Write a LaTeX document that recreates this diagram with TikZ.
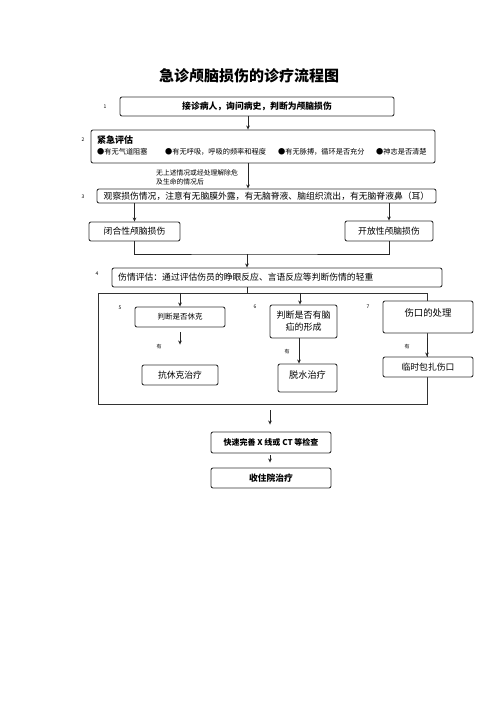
\documentclass[tikz,border=0pt]{standalone}
\usepackage{fontspec}
\setmainfont{Noto Sans CJK SC}
\usetikzlibrary{arrows.meta,positioning}

\tikzset{
    box/.style={draw=black!80, line width=0.9pt, rounded corners=2pt, fill=white, inner sep=0pt},
    arr/.style={-{Stealth[length=4pt,width=3.6pt]}, line width=0.9pt, black!85},
    lnk/.style={line width=0.9pt, black!85},
    num/.style={font=\fontsize{5pt}{6pt}\selectfont},
    txt/.style={font=\fontsize{8.8pt}{12pt}\selectfont},
    small/.style={font=\fontsize{7.2pt}{9pt}\selectfont, inner sep=0pt}
}

\begin{document}
\begin{tikzpicture}[x=1pt, y=-1pt]
    \useasboundingbox (0,0) rectangle (496,702);

    % Title
    \node[font=\fontsize{15pt}{18pt}\selectfont\bfseries] (title) at (249,76) {急诊颅脑损伤的诊疗流程图};

    % Step 1 and 2
    \node[box, minimum width=274pt, minimum height=19pt, txt, font=\fontsize{8.8pt}{12pt}\selectfont\bfseries] (jz) at (257,106.5) {接诊病人，询问病史，判断为颅脑损伤};
    \node[box, minimum width=344pt, minimum height=33pt] (pg) at (263,146.5) {};
    \node[font=\fontsize{9pt}{10pt}\selectfont\bfseries, anchor=west, inner sep=0pt] (pgt) at (97,140) {紧急评估};
    \node[small, anchor=west] (b1) at (97,152) {●有无气道阻塞};
    \node[small, anchor=west] (b2) at (165,152) {●有无呼吸，呼吸的频率和程度};
    \node[small, anchor=west] (b3) at (278,152) {●有无脉搏，循环是否充分};
    \node[small, anchor=west] (b4) at (376,152) {●神志是否清楚};
    \node[small, font=\fontsize{6.8pt}{9pt}\selectfont, anchor=west] (nt1) at (156,173) {无上述情况或经处理解除危};
    \node[small, font=\fontsize{6.8pt}{9pt}\selectfont, anchor=west] (nt2) at (156,182) {及生命的情况后};

    % Step 3
    \node[box, minimum width=339pt, minimum height=14pt, txt] (gc) at (266.5,196) {观察损伤情况，注意有无脑膜外露，有无脑脊液、脑组织流出，有无脑脊液鼻（耳）};
    \node[box, minimum width=91pt, minimum height=19pt, txt] (bh) at (134.5,231.5) {闭合性颅脑损伤};
    \node[box, minimum width=88pt, minimum height=20pt, txt] (kf) at (389,231) {开放性颅脑损伤};

    % Step 4
    \node[box, minimum width=330pt, minimum height=19pt] (sq) at (277,277.5) {};
    \node[txt, anchor=west, inner sep=0pt] (sqt) at (118,277) {伤情评估：通过评估伤员的睁眼反应、言语反应等判断伤情的轻重};

    % Group of steps 5 to 7
    \node[draw=black!80, line width=0.9pt, minimum width=329pt, minimum height=111pt, inner sep=0pt] (grp) at (262.5,348.5) {};
    \node[box, minimum width=90pt, minimum height=20pt, font=\fontsize{7.5pt}{9pt}\selectfont] (xk) at (180,317) {判断是否休克};
    \node[box, minimum width=67pt, minimum height=33pt, align=center, font=\fontsize{9pt}{12pt}\selectfont] (nh) at (303.5,321.5) {判断是否有脑\\疝的形成};
    \node[box, minimum width=90pt, minimum height=32pt] (sk) at (428,317) {};
    \node[txt, font=\fontsize{9.4pt}{12pt}\selectfont, below=4pt of sk.north] (skt) {伤口的处理};
    \node[box, minimum width=76pt, minimum height=20pt, txt] (kxk) at (180,375) {抗休克治疗};
    \node[box, minimum width=59pt, minimum height=28pt] (ts) at (307.5,378) {};
    \node[txt, font=\fontsize{9.2pt}{12pt}\selectfont, below=4pt of ts.north] (tst) {脱水治疗};
    \node[box, minimum width=90pt, minimum height=20pt, txt] (bz) at (428,367) {临时包扎伤口};

    % Final steps
    \node[box, minimum width=120pt, minimum height=21pt, font=\fontsize{8pt}{10pt}\selectfont\bfseries] (ks) at (271,442.5) {快速完善 X 线或 CT 等检查};
    \node[box, minimum width=120pt, minimum height=20pt, font=\fontsize{8.8pt}{10pt}\selectfont\bfseries] (zy) at (271,478) {收住院治疗};

    % Step numbers
    \node[num] (n1) at (105,107) {1};
    \node[num] (n2) at (83,140) {2};
    \node[num] (n3) at (83,197) {3};
    \node[num] (n4) at (97,274) {4};
    \node[num] (n5) at (120,308) {5};
    \node[num] (n6) at (255,307) {6};
    \node[num] (n7) at (368,307) {7};

    % "you" labels
    \node[num] (y1) at (159,347) {有};
    \node[num] (y2) at (287,352) {有};
    \node[num] (y3) at (407,347) {有};

    % Connectors
    \coordinate (ax) at (248,0);
    \coordinate (mrg) at (247,254);
    \draw[arr] (jz.south -| ax) -- (pg.north -| ax);
    \draw[arr] (pg.south -| ax) -- (gc.north -| ax);
    \draw[arr] (gc.south -| bh.north) -- (bh.north);
    \draw[arr] (gc.south -| kf.north) -- (kf.north);
    \draw[lnk] (bh.south) |- (mrg) -| (kf.south);
    \draw[arr] (mrg) -- (sq.north -| mrg);
    \draw[lnk] (sq.south -| mrg) -- (grp.north -| mrg);
    \draw[arr] (grp.north -| xk.north) -- (xk.north);
    \draw[arr] (grp.north -| 300,0) -- (nh.north -| 300,0);
    \draw[arr, shorten <=5pt, shorten >=20pt] (xk.south) -- (kxk.north);
    \draw[arr] (nh.south -| 299,0) -- (ts.north -| 299,0);
    \draw[arr, shorten <=5pt] (sk.south -| 427,0) -- (bz.north -| 427,0);
    \draw[arr, shorten <=6pt, shorten >=7pt] (grp.south -| 270,0) -- (ks.north -| 270,0);
    \draw[arr, shorten <=2pt, shorten >=5pt] (ks.south -| 270,0) -- (zy.north -| 270,0);
\end{tikzpicture}
\end{document}
